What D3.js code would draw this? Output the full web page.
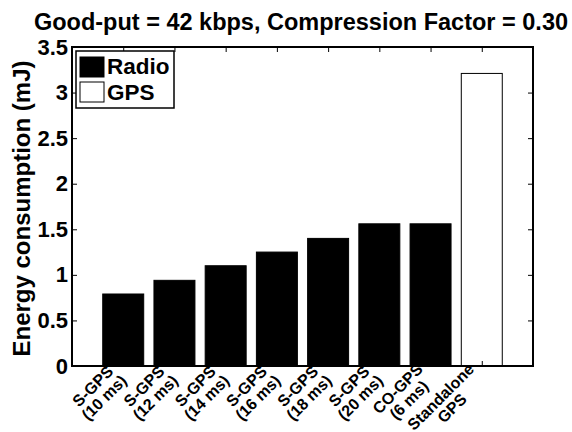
<!DOCTYPE html>
<html lang="en">
<head>
  <meta charset="UTF-8">
  <title>Energy consumption</title>
  <script src="https://cdn.jsdelivr.net/npm/d3@7"></script>
  <style>
    html, body { margin: 0; padding: 0; background: #fff; }
    svg { display: block; font-family: "Liberation Sans", Arial, sans-serif; font-weight: bold; }
  </style>
</head>
<body>
<svg id="canvas" width="572" height="432"></svg>
<script>
  // categories, each label split into lines
  const categories = [
    ['S-GPS', '(10 ms)'], ['S-GPS', '(12 ms)'], ['S-GPS', '(14 ms)'], ['S-GPS', '(16 ms)'],
    ['S-GPS', '(18 ms)'], ['S-GPS', '(20 ms)'], ['CO-GPS', '(6 ms)'], ['Standalone', 'GPS']
  ];
  const radioValues = [0.79, 0.94, 1.10, 1.25, 1.40, 1.56, 1.56, 0];
  const gpsValues   = [0, 0, 0, 0, 0, 0, 0, 3.21];
  const yTicks = [0, 0.5, 1, 1.5, 2, 2.5, 3, 3.5];
  const yTickLabels = ['0', '0.5', '1', '1.5', '2', '2.5', '3', '3.5'];
  const seriesNames = ['Radio', 'GPS'];
  const seriesColors = ['#000', '#fff'];

  const svg = d3.select('#canvas');
  const m = {left: 72, right: 533, top: 47, bottom: 366};

  const x = d3.scaleLinear().domain([0, categories.length + 1]).range([m.left, m.right]);
  const y = d3.scaleLinear().domain([0, 3.5]).range([m.bottom, m.top]);
  const barW = (x(1) - x(0)) * 0.8;

  // stacked bars (Radio under GPS)
  const rows = categories.map((c, i) => ({i, Radio: radioValues[i], GPS: gpsValues[i]}));
  const stacked = d3.stack().keys(seriesNames)(rows);
  stacked.forEach((s, k) => {
    svg.append('g').selectAll('rect')
      .data(s.filter(d => d[1] - d[0] > 0))
      .enter().append('rect')
      .attr('x', d => x(d.data.i + 1) - barW / 2)
      .attr('y', d => y(d[1]))
      .attr('width', barW)
      .attr('height', d => y(d[0]) - y(d[1]))
      .attr('fill', seriesColors[k])
      .attr('stroke', '#000')
      .attr('stroke-width', 1);
  });

  // axes box with inward ticks
  const yl = svg.append('g').attr('transform', `translate(${m.left},0)`)
    .call(d3.axisLeft(y).tickValues(yTicks).tickSize(-5).tickFormat((d, i) => yTickLabels[i]).tickPadding(4));
  svg.append('g').attr('transform', `translate(${m.right},0)`)
    .call(d3.axisRight(y).tickValues(yTicks).tickSize(-5).tickFormat(''));
  const xTickVals = categories.map((c, i) => i + 1);
  svg.append('g').attr('transform', `translate(0,${m.top})`)
    .call(d3.axisTop(x).tickValues(xTickVals).tickSize(-5).tickFormat(''));
  svg.append('g').attr('transform', `translate(0,${m.bottom})`)
    .call(d3.axisBottom(x).tickValues(xTickVals).tickSize(-5).tickFormat(''));
  svg.selectAll('.domain').remove();
  svg.selectAll('.tick line').attr('stroke', '#000').attr('stroke-width', 1);
  yl.selectAll('text').attr('font-size', 22).attr('font-family', null).attr('fill', '#000');
  svg.append('rect').attr('x', m.left).attr('y', m.top)
    .attr('width', m.right - m.left).attr('height', m.bottom - m.top)
    .attr('fill', 'none').attr('stroke', '#000').attr('stroke-width', 2);

  // rotated two-line x labels, centred lines, block right end near the tick
  const fs = 16, lineH = 16;
  categories.forEach((lines, i) => {
    const g = svg.append('g')
      .attr('transform', `translate(${x(i + 1) - 5},${m.bottom + 6}) rotate(-45)`);
    const t = g.append('text').attr('font-size', fs).attr('text-anchor', 'middle');
    lines.forEach((s, j) => t.append('tspan').attr('x', 0)
      .attr('y', -lineH * (lines.length - 1) / 2 + 0.35 * fs + j * lineH).text(s));
    const w = d3.max(t.selectAll('tspan').nodes(), n => n.getComputedTextLength());
    t.attr('transform', `translate(${-w / 2},0)`);
  });

  // title and y label
  svg.append('text').attr('x', 301).attr('y', 30)
    .attr('text-anchor', 'middle').attr('font-size', 23.5)
    .text('Good-put = 42 kbps, Compression Factor = 0.30');
  svg.append('text').attr('transform', 'translate(30,208.5) rotate(-90)')
    .attr('text-anchor', 'middle').attr('font-size', 24)
    .text('Energy consumption (mJ)');

  // legend
  const lg = svg.append('g').attr('transform', 'translate(76,51)');
  lg.append('rect').attr('width', 98).attr('height', 57)
    .attr('fill', '#fff').attr('stroke', '#000').attr('stroke-width', 1.5);
  seriesNames.forEach((name, k) => {
    lg.append('rect').attr('x', 4).attr('y', 6 + k * 25).attr('width', 24).attr('height', 20)
      .attr('fill', seriesColors[k]).attr('stroke', '#000');
    lg.append('text').attr('x', 31).attr('y', 23 + k * 26).attr('font-size', 22.5).text(name);
  });
</script>
</body>
</html>
